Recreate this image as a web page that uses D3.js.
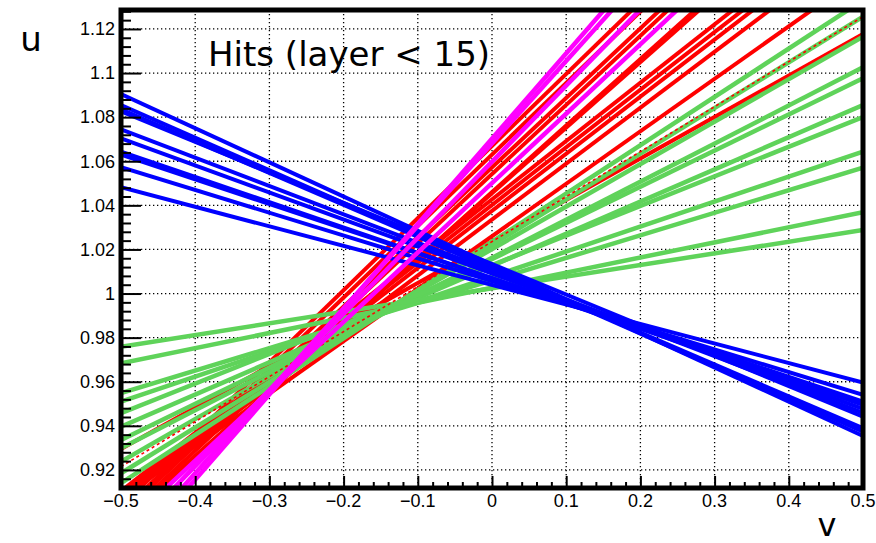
<!DOCTYPE html>
<html>
<head>
<meta charset="utf-8">
<script src="https://cdn.jsdelivr.net/npm/d3@7"></script>
<style>
  body { margin: 0; background: #fff; }
  svg { display: block; }
</style>
</head>
<body>
<svg width="876" height="543"></svg>
<script>
// hit tracks, each one from v = -0.5 (u left) to v = 0.5 (u right)
const blueLeft  = [1.0905, 1.0855, 1.0836, 1.0826, 1.0745, 1.0704, 1.0644, 1.0630, 1.0573, 1.0482];
const blueRight = [0.9354, 0.9374, 0.9389, 0.9442, 0.9459, 0.9477, 0.9495, 0.9510, 0.9540, 0.9596];

const greenLeft  = [0.9140, 0.9185, 0.9238, 0.9298, 0.9336, 0.9396, 0.9457, 0.9510, 0.9548, 0.9684, 0.9759];
const greenRight = [1.1330, 1.1256, 1.1165, 1.1026, 1.0976, 1.0855, 1.0800, 1.0644, 1.0571, 1.0369, 1.0288];

const redLeft  = [0.9034, 0.9009, 0.8995, 0.8974, 0.8967, 0.8951, 0.9104, 0.9094, 0.9080, 0.9067, 0.9070, 0.9295];
const redRight = [1.2304, 1.2252, 1.2149, 1.2110, 1.1942, 1.1969, 1.1750, 1.1709, 1.1670, 1.1604, 1.1450, 1.1177];

// sparse red track lying on a green one
const redThinLeft  = [0.9215];
const redThinRight = [1.1256];

const pinkLeft  = [0.8769, 0.8811, 0.8872, 0.8927];
const pinkRight = [1.2636, 1.2551, 1.2324, 1.2075];

const vTicks = [-0.5, -0.4, -0.3, -0.2, -0.1, 0, 0.1, 0.2, 0.3, 0.4, 0.5];
const uTicks = [0.92, 0.94, 0.96, 0.98, 1.0, 1.02, 1.04, 1.06, 1.08, 1.1, 1.12];

const svg = d3.select('svg');
const frame = { left: 121, right: 863, top: 10, bottom: 488 };

const x = d3.scaleLinear().domain([-0.5, 0.5]).range([frame.left, frame.right]);
const y = d3.scaleLinear().domain([0.9118, 1.1286]).range([frame.bottom, frame.top]);

svg.append('rect').attr('width', 876).attr('height', 543).attr('fill', '#fff');

svg.append('clipPath').attr('id', 'clip')
  .append('rect')
  .attr('x', frame.left).attr('y', frame.top)
  .attr('width', frame.right - frame.left).attr('height', frame.bottom - frame.top);

// dotted grid
const grid = svg.append('g')
  .attr('stroke', '#000')
  .attr('stroke-width', 1.3)
  .attr('stroke-dasharray', '1.3,2.7');
grid.selectAll('.gv').data(vTicks.slice(1, -1)).join('line')
  .attr('x1', d => x(d)).attr('x2', d => x(d))
  .attr('y1', frame.top).attr('y2', frame.bottom);
grid.selectAll('.gu').data(uTicks).join('line')
  .attr('x1', frame.left).attr('x2', frame.right)
  .attr('y1', d => y(d)).attr('y2', d => y(d));

// tracks
const line = d3.line().x(d => x(d[0])).y(d => y(d[1]));
function tracks(left, right, color, width, dash) {
  const rows = left.map((u, i) => [[-0.5, u], [0.5, right[i]]]);
  svg.append('g')
    .attr('clip-path', 'url(#clip)')
    .attr('fill', 'none')
    .attr('stroke', color)
    .attr('stroke-width', width)
    .attr('stroke-dasharray', dash || null)
    .selectAll('path').data(rows).join('path')
    .attr('d', line);
}
tracks(redLeft, redRight, '#ff0000', 4);
tracks(greenLeft, greenRight, '#5fd35a', 4.5);
tracks(redThinLeft, redThinRight, '#ff0000', 1.6, '3,3');
tracks(blueLeft, blueRight, '#0000ff', 4);
tracks(pinkLeft, pinkRight, '#ff00ff', 4.5);

// axes, ROOT style: ticks inside the frame
const xAxis = svg.append('g')
  .attr('transform', `translate(0,${frame.bottom})`)
  .call(d3.axisBottom(x)
    .tickValues(d3.range(-0.5, 0.5001, 0.02))
    .tickSize(-6).tickFormat(''));
xAxis.selectAll('.tick line')
  .filter(d => Math.abs(Math.round(d * 10) - d * 10) < 1e-6)
  .attr('y2', -12);
xAxis.select('.domain').remove();

svg.append('g')
  .selectAll('text').data(vTicks).join('text')
  .attr('x', d => x(d)).attr('y', 507)
  .attr('text-anchor', 'middle')
  .attr('font-family', 'Liberation Sans, Arial, sans-serif')
  .attr('font-size', 18)
  .text(d => d3.format('')(d).replace('-', '\u2212'));

const yAxis = svg.append('g')
  .attr('transform', `translate(${frame.left},0)`)
  .call(d3.axisLeft(y)
    .tickValues(d3.range(0.912, 1.1286, 0.004))
    .tickSize(-10).tickFormat(''));
yAxis.selectAll('.tick line')
  .filter(d => Math.abs(Math.round(d * 50) - d * 50) < 1e-6)
  .attr('x2', 20);
yAxis.select('.domain').remove();

svg.append('g')
  .selectAll('text').data(uTicks).join('text')
  .attr('x', 115).attr('y', d => y(d))
  .attr('dy', '0.35em')
  .attr('text-anchor', 'end')
  .attr('font-family', 'Liberation Sans, Arial, sans-serif')
  .attr('font-size', 18)
  .text(d => d3.format('')(+d.toFixed(2)));

svg.selectAll('.tick line').attr('stroke', '#000').attr('stroke-width', 2);

// frame
svg.append('rect')
  .attr('x', frame.left).attr('y', frame.top)
  .attr('width', frame.right - frame.left).attr('height', frame.bottom - frame.top)
  .attr('fill', 'none').attr('stroke', '#000').attr('stroke-width', 5);

// titles
svg.append('text')
  .attr('x', 208).attr('y', 66)
  .attr('font-family', 'DejaVu Sans, sans-serif')
  .attr('font-size', 34)
  .text('Hits (layer < 15)');
svg.append('text')
  .attr('x', 31).attr('y', 51)
  .attr('text-anchor', 'middle')
  .attr('font-family', 'DejaVu Sans, sans-serif')
  .attr('font-size', 34)
  .text('u');
svg.append('text')
  .attr('x', 827).attr('y', 536)
  .attr('text-anchor', 'middle')
  .attr('font-family', 'DejaVu Sans, sans-serif')
  .attr('font-size', 32)
  .text('v');
</script>
</body>
</html>
